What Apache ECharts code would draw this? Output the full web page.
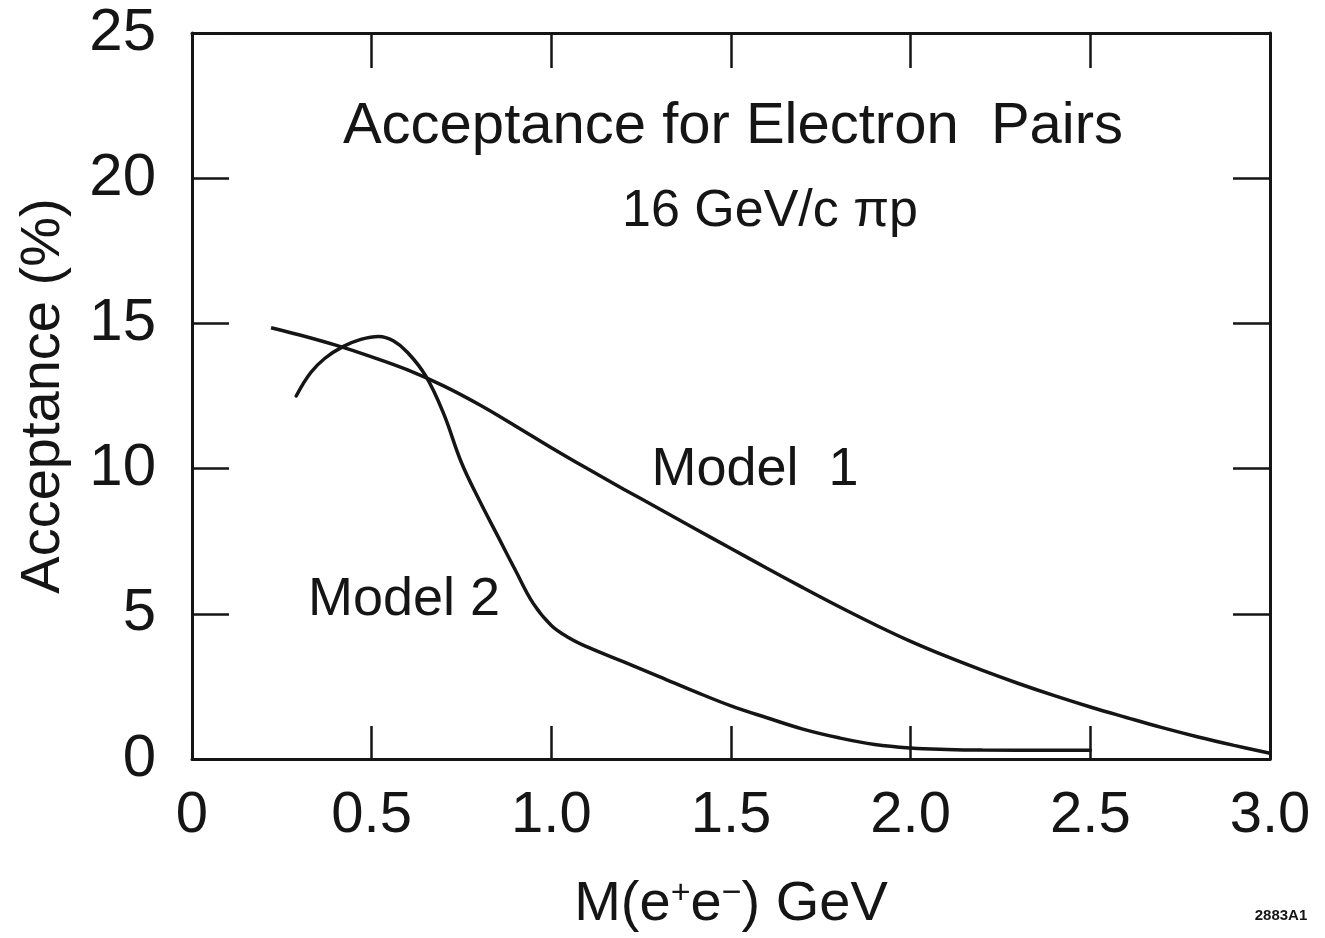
<!DOCTYPE html>
<html>
<head>
<meta charset="utf-8">
<script src="https://cdn.jsdelivr.net/npm/echarts@6/dist/echarts.min.js"></script>
<style>
html,body{margin:0;padding:0;background:#fff;}
#chart{width:1325px;height:938px;}
</style>
</head>
<body>
<div id="chart"></div>
<script>
// ---- data ----
const xTicks = [0, 0.5, 1.0, 1.5, 2.0, 2.5, 3.0];
const yTicks = [0, 5, 10, 15, 20, 25];

const massModel1 = [0.22, 0.3, 0.4, 0.5, 0.6, 0.7, 0.8, 0.9, 1.0, 1.1, 1.2, 1.3, 1.4, 1.5, 1.6, 1.7, 1.8, 1.9, 2.0, 2.1, 2.2, 2.3, 2.4, 2.5, 2.6, 2.7, 2.8, 2.9, 3.0];
const accModel1  = [14.85, 14.6, 14.25, 13.85, 13.4, 12.85, 12.2, 11.47, 10.72, 10.0, 9.3, 8.62, 7.93, 7.25, 6.57, 5.9, 5.25, 4.63, 4.05, 3.53, 3.05, 2.6, 2.18, 1.79, 1.43, 1.08, 0.76, 0.47, 0.2];

const massModel2 = [0.29, 0.33, 0.37, 0.42, 0.47, 0.52, 0.56, 0.6, 0.65, 0.7, 0.75, 0.8, 0.85, 0.9, 0.95, 1.0, 1.05, 1.1, 1.2, 1.3, 1.4, 1.5, 1.6, 1.7, 1.8, 1.9, 2.0, 2.1, 2.2, 2.5];
const accModel2  = [12.5, 13.3, 13.8, 14.2, 14.45, 14.55, 14.4, 14.0, 13.2, 11.9, 10.2, 8.9, 7.7, 6.5, 5.35, 4.6, 4.17, 3.86, 3.35, 2.84, 2.32, 1.83, 1.42, 1.03, 0.73, 0.5, 0.38, 0.33, 0.31, 0.3];

const labels = {
  title: 'Acceptance for Electron  Pairs',
  subtitle: '16 GeV/c \u03C0p',
  model1: 'Model  1',
  model2: 'Model 2',
  xName: 'M(e{sup|+}e{sup|\u2212}) GeV',
  yName: 'Acceptance (%)',
  code: '2883A1'
};

const zip = (xs, ys) => xs.map((x, i) => [x, ys[i]]);

const INK = '#151515';
const FONT = '"Liberation Sans", Arial, sans-serif';

const chart = echarts.init(document.getElementById('chart'), null, {renderer: 'canvas'});

const axisLineStyle = {show: true, onZero: false, lineStyle: {color: INK, width: 3}};
const tickStyle = (len) => ({show: true, inside: true, length: len, lineStyle: {color: INK, width: 2.5}});

chart.setOption({
  backgroundColor: '#ffffff',
  animation: false,
  grid: {left: 192, right: 55, top: 33, bottom: 177, containLabel: false},
  xAxis: [
    {
      type: 'value', position: 'bottom', min: 0, max: 3, interval: 0.5,
      axisLine: axisLineStyle, axisTick: tickStyle(33), splitLine: {show: false},
      axisLabel: {
        show: true, margin: 28, color: INK, fontSize: 58, fontFamily: FONT,
        formatter: v => (v === 0 ? '0' : v.toFixed(1))
      },
      name: labels.xName, nameLocation: 'middle', nameGap: 118,
      nameTextStyle: {
        color: INK, fontSize: 56, fontFamily: FONT,
        rich: {sup: {fontSize: 34, fontFamily: FONT, color: INK, padding: [0, 0, 22, 0]}}
      }
    },
    {
      type: 'value', position: 'top', min: 0, max: 3, interval: 0.5,
      axisLine: axisLineStyle, axisTick: tickStyle(35), splitLine: {show: false},
      axisLabel: {show: false}
    }
  ],
  yAxis: [
    {
      type: 'value', position: 'left', min: 0, max: 25, interval: 5,
      axisLine: axisLineStyle, axisTick: tickStyle(37), splitLine: {show: false},
      axisLabel: {show: true, margin: 36, color: INK, fontSize: 60, fontFamily: FONT, showMinLabel: true, showMaxLabel: true},
      name: labels.yName, nameLocation: 'middle', nameGap: 120,
      nameTextStyle: {color: INK, fontSize: 56, fontFamily: FONT}
    },
    {
      type: 'value', position: 'right', min: 0, max: 25, interval: 5,
      axisLine: axisLineStyle, axisTick: tickStyle(37), splitLine: {show: false},
      axisLabel: {show: false}
    }
  ],
  series: [
    {
      name: 'Model 1', type: 'line', xAxisIndex: 0, yAxisIndex: 0,
      data: zip(massModel1, accModel1), smooth: 0.4, symbol: 'none',
      lineStyle: {color: INK, width: 3.5}
    },
    {
      name: 'Model 2', type: 'line', xAxisIndex: 0, yAxisIndex: 0,
      data: zip(massModel2, accModel2), smooth: 0.4, symbol: 'none',
      lineStyle: {color: INK, width: 3.5, cap: 'round'}
    }
  ],
  graphic: [
    {type: 'text', x: 733, y: 127, style: {text: labels.title, font: '58px ' + FONT, fill: INK, textAlign: 'center', textVerticalAlign: 'middle'}},
    {type: 'text', x: 770, y: 212, style: {text: labels.subtitle, font: '52px ' + FONT, fill: INK, textAlign: 'center', textVerticalAlign: 'middle'}},
    {type: 'text', x: 755, y: 470, style: {text: labels.model1, font: '54px ' + FONT, fill: INK, textAlign: 'center', textVerticalAlign: 'middle'}},
    {type: 'text', x: 404, y: 600, style: {text: labels.model2, font: '54px ' + FONT, fill: INK, textAlign: 'center', textVerticalAlign: 'middle'}},
    {type: 'text', x: 1281, y: 916, style: {text: labels.code, font: 'bold 15px ' + FONT, fill: INK, textAlign: 'center', textVerticalAlign: 'middle'}}
  ]
});
</script>
</body>
</html>
